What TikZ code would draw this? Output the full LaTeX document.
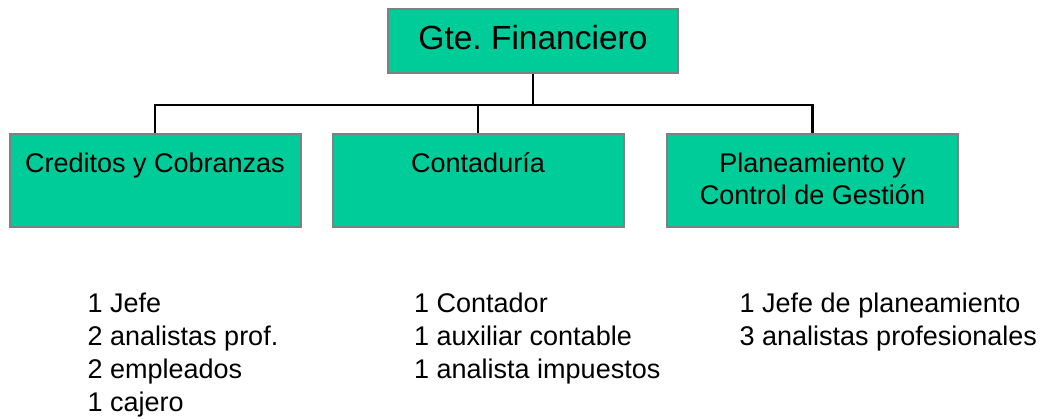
\documentclass[tikz,border=0pt]{standalone}
\usepackage{fontspec}
\setmainfont{Liberation Sans}
\usepackage{tikz}
\usetikzlibrary{positioning, calc}

\definecolor{unitgreen}{RGB}{0,204,153}
\definecolor{unitframe}{RGB}{128,128,128}

\newcommand{\unitname}[1]{\parbox[c][93pt][t]{291pt}{\centering\vspace*{16pt}\strut #1}}

\begin{document}
\begin{tikzpicture}[x=1pt, y=-1pt,
	unit/.style={draw=unitframe, line width=2pt, fill=unitgreen, inner sep=0pt, font=\fontsize{27}{32}\selectfont},
	staff/.style={anchor=base west, inner sep=0pt, font=\fontsize{27}{33}\selectfont},
	link/.style={line width=2.2pt}]
	
	\useasboundingbox (0,0) rectangle (1047,419);
	
	%//top box
	\node [unit, minimum width=290pt, minimum height=64pt, text height=25pt, text depth=7pt, font=\fontsize{33.5}{40}\selectfont] (gte) at (533, 41) {Gte.\ Financiero};
	
	%//the three areas
	\node [unit] (cred) at (155, 180.5) {\unitname{Creditos y Cobranzas}};
	\node [unit] (cont) at (478, 180.5) {\unitname{Contaduría}};
	\node [unit] (plan) at (812.5, 180.5) {\unitname{Planeamiento y\\Control de Gestión}};
	
	\draw [link] (gte.south) -- ++(0,31) coordinate (bus) -| (cred.north);
	\draw [link] (bus) -| (cont.north);
	\draw [link] (bus) -| (plan.north);
	
	%//staff of each area
	\foreach \t [count=\i from 0] in {1 Jefe, 2 analistas prof., 2 empleados, 1 cajero}
	\node [staff] (cred\i) at (87.5, 313+33*\i) {\t};
	
	\foreach \t [count=\i from 0] in {1 Contador, 1 auxiliar contable, 1 analista impuestos}
	\node [staff] (cont\i) at (414, 313+33*\i) {\t};
	
	\foreach \t [count=\i from 0] in {1 Jefe de planeamiento, 3 analistas profesionales}
	\node [staff] (plan\i) at (739.5, 313+33*\i) {\t};
	
\end{tikzpicture}
\end{document}
